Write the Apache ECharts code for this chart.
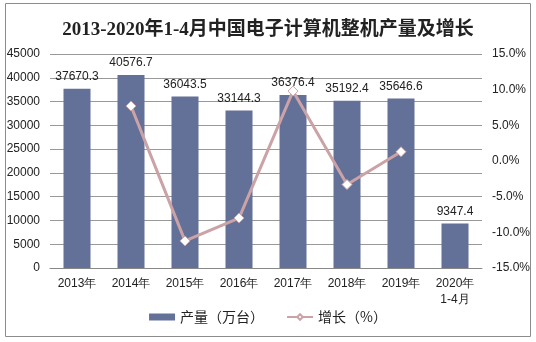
<!DOCTYPE html>
<html><head><meta charset="utf-8">
<script src="https://cdn.jsdelivr.net/npm/echarts@6/dist/echarts.min.js"></script>
<style>html,body{margin:0;padding:0;background:#fff}#c{width:536px;height:342px}</style>
</head><body><div id="c"></div>
<script>
const categories = ['2013年','2014年','2015年','2016年','2017年','2018年','2019年','2020年\n1-4月'];
const output = [37670.3, 40576.7, 36043.5, 33144.3, 36376.4, 35192.4, 35646.6, 9347.4];
const growth = [null, 7.7, -11.2, -8.0, 9.8, -3.3, 1.3, null];
const title = '2013-2020年1-4月中国电子计算机整机产量及增长';
const seriesNames = ['产量（万台）', '增长（%）'];

const chart = echarts.init(document.getElementById('c'));
const axisFont = {fontFamily: 'Liberation Sans, Arial, sans-serif', fontSize: 12, color: '#222'};
chart.setOption({
  animation: false,
  graphic: [{type:'rect', shape:{x:5.5,y:3.5,width:525,height:333}, style:{fill:'none', stroke:'#8c8c8c', lineWidth:1}, z:-1}],
  title: {text: title, left: 'center', top: 16,
    textStyle: {fontFamily: 'Liberation Serif, "Noto Sans CJK SC", serif', fontSize: 19, fontWeight: 'bold', color: '#222'}},
  legend: {bottom: 13, left: 'center', itemGap: 22, itemWidth: 26, itemHeight: 7,
    textStyle: {fontFamily: '"Noto Sans CJK SC", sans-serif', fontSize: 14, color: '#222'},
    data: [{name: seriesNames[0], icon: 'rect'}, {name: seriesNames[1]}]},
  grid: {left: 50, right: 54, top: 54, bottom: 74},
  xAxis: {type: 'category', data: categories,
    axisLine: {lineStyle: {color: '#888'}}, axisTick: {lineStyle: {color: '#888'}},
    axisLabel: Object.assign({margin: 8, lineHeight: 16}, axisFont)},
  yAxis: [
    {type: 'value', min: 0, max: 45000, interval: 5000,
      axisLine: {show: false}, axisTick: {show: false},
      splitLine: {lineStyle: {color: '#999'}},
      axisLabel: Object.assign({margin: 10, formatter: v => String(v)}, axisFont)},
    {type: 'value', min: -15, max: 15, interval: 5,
      axisLine: {show: false}, axisTick: {show: false}, splitLine: {show: false},
      axisLabel: Object.assign({margin: 10, formatter: v => v.toFixed(1) + '%'}, axisFont)}
  ],
  series: [
    {name: seriesNames[0], type: 'bar', data: output, barWidth: '50%',
      itemStyle: {color: '#637097'},
      label: {show: true, position: 'top', distance: 6, fontFamily: 'Liberation Sans, Arial, sans-serif', fontSize: 12, color: '#222'}},
    {name: seriesNames[1], type: 'line', yAxisIndex: 1, data: growth,
      lineStyle: {color: '#cba3a6', width: 3},
      itemStyle: {color: '#fff', borderColor: '#cba3a6', borderWidth: 1},
      symbol: 'diamond', symbolSize: 10, z: 3}
  ]
});
</script></body></html>
